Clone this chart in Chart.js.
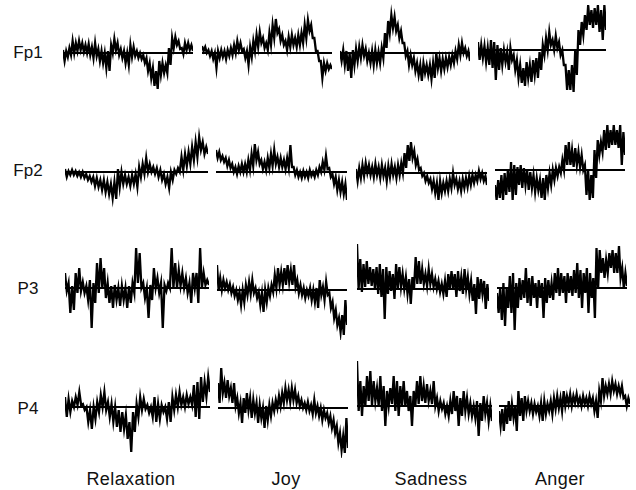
<!DOCTYPE html>
<html>
<head>
<meta charset="utf-8">
<script src="https://cdn.jsdelivr.net/npm/chart.js@4.4.0/dist/chart.umd.min.js"></script>
<style>
  body { margin: 0; background: #fff; }
  #wrap { position: relative; width: 636px; height: 490px; overflow: hidden; font-family: "Liberation Sans", Arial, sans-serif; color: #111; }
  #wrap canvas { position: absolute; }
  .lbl { position: absolute; line-height: 18px; white-space: nowrap; text-align: center; }
</style>
</head>
<body>
<div id="wrap"></div>
<script>
const rowNames = ['Fp1', 'Fp2', 'P3', 'P4'];
const colNames = ['Relaxation', 'Joy', 'Sadness', 'Anger'];

// dense EEG traces: successive peaks and troughs, units above the baseline
const fp1Relax = [3,-8, 2,-4, 5,-2, 12,0, 10,2, 12,3, 10,1, 8,0, 9,-2, 6,-5, 10,-3, 4,-8, 2,-10, 0,-15, 2,-18, 8,0, 14,3, 10,-2, 4,-5, 2,-10, 0,-12, 8,-4, 6,-3, 2,-5, 0,-6, -2,-10, -5,-18, -10,-25, -15,-33, -18,-36, -8,-22, -10,-20, -12,-20, 5,-12, 15,5, 16,8, 12,4, 5,-1, 10,3, 10,3, 8,2];
const fp1Joy = [7,2, 6,0, 3,-3, 2,-6, 0,-15, 2,-5, 3,-4, 2,-6, 3,-3, 5,-2, 8,0, 12,3, 10,2, 4,-5, 2,-12, 6,-4, 12,2, 18,6, 21,10, 15,5, 10,3, 20,8, 28,15, 34,20, 24,12, 18,8, 12,3, 16,6, 18,8, 15,6, 18,8, 20,10, 28,15, 33,22, 28,15, 15,2, 2,-8, -8,-25, -10,-18, -10,-16, -12,-16];
const fp1Sad = [2,-8, 3,-12, 2,-18, 0,-25, 3,-12, 4,-8, 6,-5, 8,-3, 4,-8, 0,-10, 2,-12, 3,-10, 1,-10, 5,-5, 20,5, 32,20, 38,25, 36,22, 28,15, 22,10, 10,-3, 2,-12, -2,-12, -5,-18, -10,-22, -12,-28, -10,-20, -12,-22, -12,-26, -10,-25, 0,-15, -5,-18, -6,-16, -5,-14, -4,-12, -2,-10, 2,-6, 8,-2, 10,0, 5,-3, 2,-8];
const fp1Anger = [8,-10, 5,-8, 4,-12, 2,-15, 10,-18, 8,-30, 5,-20, 2,-15, 0,-12, -2,-20, 2,-10, -5,-20, -10,-28, -15,-33, -18,-36, -12,-28, -15,-32, -10,-25, -8,-28, -2,-20, 5,-5, 12,0, 18,5, 10,0, 14,2, 8,-5, 0,-15, -15,-40, -20,-40, -15,-42, 0,-25, 20,5, 28,15, 35,20, 45,25, 40,22, 42,25, 45,18, 40,10, 45,20];

const fp2Relax = [3,-5, 1,-3, 2,-3, 1,-4, 0,-5, 0,-6, -2,-8, -4,-10, -5,-14, -6,-15, -8,-18, -8,-20, -10,-22, -12,-26, -10,-27, 3,-15, 0,-12, -3,-12, -5,-14, -3,-12, -2,-15, 5,-5, 8,-2, 14,0, 8,0, 5,-2, 4,-5, 2,-8, -2,-12, -5,-16, 0,-8, 2,-2, 4,0, 15,2, 18,6, 20,8, 25,12, 30,15, 35,22, 30,18, 25,18];
const fp2Joy = [22,14, 20,12, 16,10, 14,6, 12,4, 8,0, 5,-2, 6,0, 8,0, 8,0, 12,2, 18,6, 28,12, 20,8, 12,3, 10,2, 14,4, 18,6, 22,8, 15,5, 14,5, 12,3, 14,4, 27,5, 5,-3, 2,-5, 0,-6, 1,-5, 0,-6, 2,-4, 0,-5, 2,-3, 5,0, 10,2, 16,3, 4,-5, -2,-12, -5,-18, -8,-20, -10,-22, -12,-28];
const fp2Sad = [4,-8, 5,-5, 8,-3, 10,0, 8,-2, 6,-4, 9,-2, 6,-5, 8,-3, 5,-8, 7,-4, 9,-2, 6,-5, 8,-2, 10,0, 20,5, 28,12, 31,15, 22,8, 14,3, 5,-3, 0,-8, -3,-10, -6,-16, -8,-20, -10,-27, -8,-20, -10,-18, -8,-18, -6,-15, 0,-12, -6,-16, -8,-18, -6,-15, -5,-14, -3,-12, -2,-10, -2,-8, 2,-6, 0,-8, -3,-12];
const fp2Anger = [-15,-30, -10,-28, -5,-30, -3,-25, 0,-22, 8,-30, 5,-25, 3,-15, 5,-18, 2,-15, 0,-20, -2,-18, -5,-22, -8,-20, -10,-28, -8,-30, -5,-18, -3,-15, 0,-10, 2,-6, 3,-3, 10,0, 25,5, 28,5, 20,3, 22,5, 18,3, 15,0, 5,-25, 0,-30, -5,-28, 20,-8, 30,15, 28,18, 40,20, 45,22, 40,25, 45,25, 40,22, 45,5, 38,15];

const p3Relax = [15,-3, 5,-25, 2,-22, 15,-5, 20,-3, 6,-5, 2,-12, 8,-40, 5,-15, 25,-5, 30,0, 20,-10, 5,-15, 2,-20, 3,-12, 0,-18, 2,-12, 0,-20, 2,-15, 5,-5, 40,5, 35,0, 5,-10, 0,-30, 3,-12, 20,0, 10,-5, 5,-40, 3,-3, 5,0, 40,0, 25,0, 18,2, 15,0, 10,-5, 5,-15, 15,0, 15,-15, 40,0, 15,3, 8,3];
const p3Joy = [25,0, 12,0, 10,2, 8,0, 6,-3, 3,-6, 0,-10, -2,-15, 0,-12, 5,-5, 8,-4, 10,-3, 2,-8, -2,-15, -3,-22, 0,-12, 2,-6, 5,-2, 15,2, 22,5, 18,5, 22,5, 25,8, 20,5, 25,3, 10,-3, 5,-5, 2,-8, 0,-6, 2,-10, 0,-12, 2,-18, 10,-5, 3,-10, 8,-5, -3,-18, -12,-28, -20,-35, -28,-42, -25,-45, -10,-35];
const p3Sad = [45,0, 30,-3, 25,2, 28,5, 22,3, 20,0, 22,-5, 25,-8, 20,-30, 22,-5, 18,-2, 15,-10, 25,0, 22,2, 15,0, 12,-5, 10,-15, 12,0, 32,5, 28,5, 20,5, 15,3, 20,5, 15,2, 10,0, 8,-3, 5,-5, 8,-8, 15,0, 18,0, 15,-8, 18,-2, 12,-5, 20,0, 12,-5, 8,-12, 5,-25, 12,-10, 10,-5, 8,-20, 5,-12];
const p3Anger = [-5,-25, 0,-32, 5,-38, 0,-20, 12,-25, 15,-42, 5,-20, 10,-12, 8,-10, 20,-15, 10,-18, 12,-10, 5,-20, 8,-10, 5,-30, 10,-15, 8,-10, 5,-12, 15,-5, 20,-8, 15,-5, 12,-15, 15,-5, 12,-8, 18,-5, 25,-10, 18,-20, 15,-5, 20,-25, 15,-10, 10,-30, 40,0, 38,15, 30,10, 28,15, 35,20, 38,15, 35,15, 42,10, 20,0, 15,2];

const p4Relax = [10,-10, 8,-5, 6,0, 10,2, 15,2, 3,-3, 0,-15, -3,-22, 0,-12, 5,-5, 12,0, 15,-3, 5,-10, 3,-15, 0,-20, -3,-25, -5,-22, -8,-32, -15,-45, -5,-25, 3,-10, 10,-3, 8,-2, 2,-6, 0,-10, 10,-15, 3,-12, 2,-5, 0,-12, 5,-15, 10,-3, 12,0, 15,2, 10,0, 12,3, 10,2, 22,-10, 25,-12, 30,5, 25,10, 30,15];
const p4Joy = [25,5, 40,15, 25,10, 28,12, 20,5, 25,2, 10,-5, 5,-15, 10,-5, 15,-2, 10,-10, 8,-5, 5,-15, 3,-10, 0,-20, 2,-12, 3,-8, 5,-3, 8,0, 12,2, 15,5, 20,8, 18,6, 20,8, 18,5, 12,2, 8,0, 5,-2, 6,-3, 3,-6, 8,-5, 2,-8, 0,-12, -2,-10, -5,-15, -8,-20, -12,-25, -18,-35, -25,-42, -28,-45, -10,-40];
const p4Sad = [45,-5, 25,-10, 20,0, 30,5, 35,0, 25,5, 18,0, 30,-5, 20,-20, 15,0, 18,2, 30,-5, 25,-10, 20,0, 25,0, 15,-5, 10,-20, 15,0, 25,2, 30,5, 20,3, 22,5, 15,2, 25,0, 8,-5, 5,-3, 3,-8, 0,-10, 5,-8, 15,-5, 10,-20, 8,-10, 15,-5, 8,-8, 3,-10, 0,-12, 5,-30, 3,-15, 10,-8, 3,-15, 0,-15];
const p4Anger = [-5,-20, -3,-25, 0,-18, 5,-15, 2,-12, 0,-25, 15,-10, 8,-15, 10,-5, 5,-5, 3,-8, 2,-6, 0,-10, 3,-15, 5,-8, 2,-5, 5,-8, 8,-3, 10,-2, 8,-5, 15,0, 10,2, 12,0, 10,3, 12,2, 8,0, 10,2, 8,0, 10,2, 8,-5, 5,-12, 15,5, 28,10, 20,12, 22,12, 25,15, 22,12, 20,12, 20,8, 10,0, 8,2];

const traces = [
  [fp1Relax, fp1Joy, fp1Sad, fp1Anger],
  [fp2Relax, fp2Joy, fp2Sad, fp2Anger],
  [p3Relax, p3Joy, p3Sad, p3Anger],
  [p4Relax, p4Joy, p4Sad, p4Anger]
];

// panel placement: [left, right, baseline y]
const boxes = [
  [[63, 193, 53], [202, 332, 53], [340, 470, 53], [478, 606, 50]],
  [[65, 208, 172], [216, 347, 172], [356, 487, 173], [495, 625, 170]],
  [[65, 209, 288], [217, 347, 290], [357, 489, 289], [497, 627, 288]],
  [[65, 210, 407], [218, 348, 408], [357, 492, 406], [499, 630, 406]]
];
const rowLabelY = [44, 162, 280, 400];
const colLabelX = [131, 286, 431, 560];

const wrap = document.getElementById('wrap');
const half = 50;

traces.forEach((row, r) => {
  row.forEach((vals, c) => {
    const [x0, x1, base] = boxes[r][c];
    const cv = document.createElement('canvas');
    cv.width = x1 - x0;
    cv.height = half * 2;
    cv.style.left = x0 + 'px';
    cv.style.top = (base - half) + 'px';
    wrap.appendChild(cv);
    new Chart(cv, {
      type: 'line',
      data: {
        labels: vals.map((v, i) => i),
        datasets: [{
          data: vals,
          borderColor: '#000',
          borderWidth: 2.3,
          pointRadius: 0,
          tension: 0
        }, {
          data: vals.map(() => 0),
          borderColor: '#000',
          borderWidth: 1.8,
          pointRadius: 0
        }]
      },
      options: {
        responsive: false,
        animation: false,
        layout: { padding: 0 },
        plugins: { legend: { display: false }, tooltip: { enabled: false } },
        scales: {
          x: { display: false, offset: false },
          y: { display: false, min: -half, max: half }
        }
      }
    });
  });
});

rowNames.forEach((name, r) => {
  const d = document.createElement('div');
  d.className = 'lbl';
  d.textContent = name;
  d.style.cssText = 'left:6px;width:44px;font-size:17px;top:' + rowLabelY[r] + 'px';
  wrap.appendChild(d);
});

colNames.forEach((name, c) => {
  const d = document.createElement('div');
  d.className = 'lbl';
  d.textContent = name;
  d.style.cssText = 'left:' + (colLabelX[c] - 60) + 'px;width:120px;font-size:18px;top:470px;letter-spacing:0.4px';
  wrap.appendChild(d);
});
</script>
</body>
</html>
